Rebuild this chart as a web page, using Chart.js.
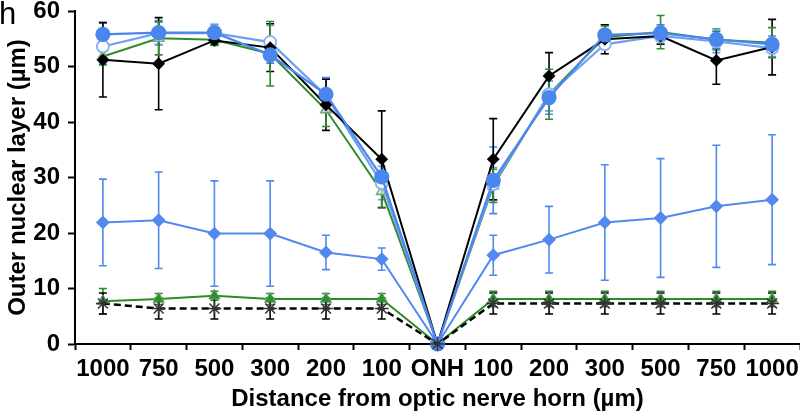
<!DOCTYPE html>
<html>
<head>
<meta charset="utf-8">
<script src="https://cdn.jsdelivr.net/npm/chart.js@4"></script>
<style>
  body { margin: 0; background: #fff; }
  #wrap { width: 800px; height: 415px; }
</style>
</head>
<body>
<div id="wrap"><canvas id="myChart" width="800" height="415"></canvas></div>
<script>
// data
const distances = ["1000", "750", "500", "300", "200", "100", "ONH", "100", "200", "300", "500", "750", "1000"];

const blackMean = [51.2, 50.5, 54.7, 53.4, 43.1, 33.3, 0, 33.3, 48.3, 54.9, 55.5, 51.1, 53.5];
const blackSd = [6.7, 8.3, 0.8, 4.3, 4.6, 8.7, 0, 7.3, 4.2, 2.6, 1.5, 4.3, 5.0];

const blueFilledMean = [55.8, 56.1, 56.1, 52.1, 45.0, 30.1, 0, 29.5, 44.4, 55.7, 56.0, 54.9, 54.0];
const blueFilledSd = [2.1, 2.2, 1.5, 1.5, 3.0, 3.0, 0, 6.0, 3.0, 1.8, 1.5, 1.9, 1.5];

const blueOpenMean = [53.6, 56.0, 56.0, 54.4, 44.8, 29.0, 0, 28.8, 45.0, 54.0, 55.5, 54.5, 53.3];
const blueOpenSd = [3.0, 2.0, 1.5, 3.0, 3.0, 3.0, 0, 3.0, 3.0, 1.7, 1.5, 2.0, 1.5];

const greenOpenMean = [51.8, 55.1, 54.8, 52.3, 42.2, 27.5, 0, 28.5, 45.0, 55.3, 56.2, 54.8, 54.3];
const greenOpenSd = [1.5, 3.0, 1.0, 5.8, 3.0, 3.0, 0, 3.0, 4.5, 2.0, 3.0, 1.5, 2.7];

const blueDiamondMean = [21.9, 22.3, 19.9, 19.9, 16.5, 15.3, 0, 16.0, 18.8, 21.9, 22.7, 24.8, 26.0];
const blueDiamondSd = [7.8, 8.7, 9.5, 9.5, 3.1, 2.0, 0, 3.6, 6.0, 10.4, 10.7, 11.0, 11.7];

const greenFilledMean = [7.7, 8.1, 8.7, 8.1, 8.1, 8.1, 0, 8.1, 8.1, 8.1, 8.1, 8.1, 8.1];
const greenFilledSd = [2.3, 1.0, 0.8, 1.0, 1.0, 1.0, 0, 1.4, 1.4, 1.4, 1.4, 1.4, 1.4];

const blackDashMean = [7.3, 6.4, 6.4, 6.4, 6.4, 6.4, 0, 7.3, 7.3, 7.3, 7.3, 7.3, 7.3];
const blackDashSd = [1.9, 1.9, 1.9, 1.9, 1.9, 1.9, 0, 1.9, 1.9, 1.9, 1.9, 1.9, 1.9];

const yTicks = [0, 10, 20, 30, 40, 50, 60];

const FONT = "'Liberation Sans', Arial, sans-serif";

// error bars drawn through the scales
const errorBars = {
  id: "errorBars",
  beforeDatasetsDraw(chart) {
    const ctx = chart.ctx;
    const x = chart.scales.x;
    const y = chart.scales.y;
    chart.data.datasets.forEach((ds) => {
      if (!ds.sd) return;
      ctx.save();
      ctx.strokeStyle = ds.errColor || ds.borderColor;
      ctx.lineWidth = 1.6;
      ds.data.forEach((v, i) => {
        const sd = ds.sd[i];
        if (!sd) return;
        const px = x.getPixelForValue(i);
        const top = y.getPixelForValue(v + sd);
        const bot = y.getPixelForValue(v - sd);
        ctx.beginPath();
        ctx.moveTo(px, top);
        ctx.lineTo(px, bot);
        ctx.moveTo(px - 4, top);
        ctx.lineTo(px + 4, top);
        ctx.moveTo(px - 4, bot);
        ctx.lineTo(px + 4, bot);
        ctx.stroke();
      });
      ctx.restore();
    });
  },
};

const panelLetter = {
  id: "panelLetter",
  afterDraw(chart) {
    const ctx = chart.ctx;
    ctx.save();
    ctx.fillStyle = "#000";
    ctx.font = "31px 'Liberation Sans', Arial, sans-serif";
    ctx.textBaseline = "alphabetic";
    ctx.fillText("h", -1, 24);
    ctx.restore();
  },
};

const ctx = document.getElementById("myChart").getContext("2d");
const myChart = new Chart(ctx, {
  type: "line",
  data: {
    labels: distances,
    datasets: [
      {
        label: "blue filled",
        data: blueFilledMean,
        sd: blueFilledSd,
        borderColor: "#4a86ec",
        backgroundColor: "#4a86ec",
        pointStyle: "circle",
        pointRadius: 6.5,
        borderWidth: 2.2,
        order: 1,
      },
      {
        label: "blue open",
        data: blueOpenMean,
        sd: blueOpenSd,
        borderColor: "#6f9fee",
        backgroundColor: "#ffffff",
        pointBorderColor: "#8db2f0",
        pointStyle: "circle",
        pointRadius: 6,
        pointBorderWidth: 2,
        borderWidth: 2.2,
        order: 3,
      },
      {
        label: "black",
        data: blackMean,
        sd: blackSd,
        borderColor: "#000000",
        backgroundColor: "#000000",
        pointStyle: "rectRot",
        pointRadius: 5,
        borderWidth: 2,
        order: 2,
      },
      {
        label: "green open",
        data: greenOpenMean,
        sd: greenOpenSd,
        borderColor: "#2e8b2e",
        backgroundColor: "rgba(255,255,255,0.6)",
        pointBorderColor: "#72a872",
        pointStyle: "triangle",
        pointRadius: 6,
        pointBorderWidth: 1.5,
        borderWidth: 2,
        order: 4,
      },
      {
        label: "blue diamond",
        data: blueDiamondMean,
        sd: blueDiamondSd,
        borderColor: "#5189ee",
        backgroundColor: "#5189ee",
        pointStyle: "rectRot",
        pointRadius: 5.5,
        borderWidth: 2,
        order: 5,
      },
      {
        label: "green filled",
        data: greenFilledMean,
        sd: greenFilledSd,
        borderColor: "#2b8c2b",
        backgroundColor: "#2f8f2f",
        pointBorderColor: "#6aa56a",
        pointStyle: "triangle",
        pointRadius: 6.5,
        pointBorderWidth: 1,
        borderWidth: 2,
        order: 6,
      },
      {
        label: "black dashed",
        data: blackDashMean,
        sd: blackDashSd,
        borderColor: "#000000",
        backgroundColor: "#000000",
        pointBorderColor: "#333333",
        pointStyle: "star",
        pointRadius: 7,
        pointBorderWidth: 1.5,
        borderWidth: 2.5,
        borderDash: [7, 4],
        order: 0,
      },
    ],
  },
  options: {
    responsive: false,
    animation: false,
    layout: { autoPadding: false, padding: { top: 11, right: 0, left: 0, bottom: 0 } },
    clip: false,
    plugins: {
      legend: { display: false },
      tooltip: { enabled: false },
    },
    elements: { line: { tension: 0 } },
    scales: {
      x: {
        offset: true,
        afterFit(scale) {
          scale.height = 71;
          scale.paddingLeft = 0;
          scale.paddingRight = 0;
        },
        border: { color: "#000", width: 2 },
        grid: {
          offset: true,
          drawOnChartArea: false,
          drawTicks: true,
          tickLength: 6,
          tickWidth: 2,
          tickColor: "#000",
        },
        ticks: {
          color: "#000",
          font: { family: FONT, size: 24, weight: "bold" },
          padding: 5,
          maxRotation: 0,
          autoSkip: false,
        },
        title: {
          display: true,
          text: "Distance from optic nerve horn (µm)",
          color: "#000",
          font: { family: FONT, size: 24, weight: "bold" },
          padding: { top: 0, bottom: 1 },
        },
      },
      y: {
        min: 0,
        max: 60,
        afterFit(scale) {
          scale.width = 75;
          scale.paddingTop = 0;
          scale.paddingBottom = 0;
        },
        afterBuildTicks(scale) {
          scale.ticks = yTicks.map((v) => ({ value: v }));
        },
        border: { color: "#000", width: 2 },
        grid: {
          drawOnChartArea: false,
          drawTicks: true,
          tickLength: 7,
          tickWidth: 2,
          tickColor: "#000",
        },
        ticks: {
          color: "#000",
          font: { family: FONT, size: 24, weight: "bold" },
          padding: 8,
        },
        title: {
          display: true,
          text: "Outer nuclear layer (µm)",
          color: "#000",
          font: { family: FONT, size: 24, weight: "bold" },
          padding: { top: 4, bottom: 0 },
        },
      },
    },
  },
  plugins: [errorBars, panelLetter],
});
</script>
</body>
</html>
